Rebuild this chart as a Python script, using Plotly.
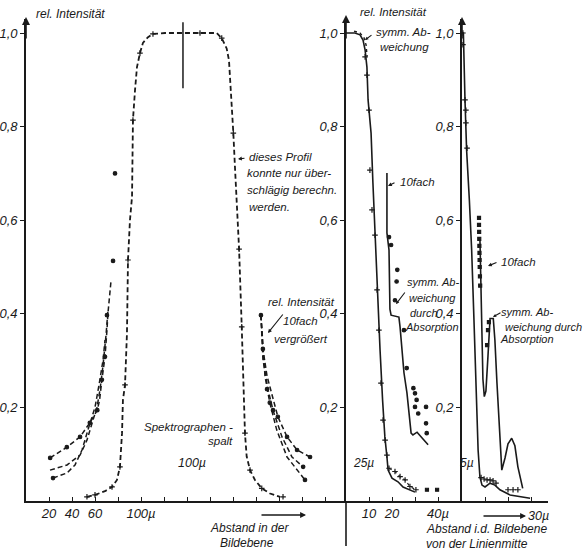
import plotly.graph_objects as go

W, H = 588, 552
INK = "#1a1a1a"
FONT = "Liberation Sans"

# ---------------- Panel 1: Spektrographenspalt 100 µ (x in µ) ----------------
slit_x = [53.0, 60.0, 68.7, 74.8, 79.1, 81.7, 83.5, 84.3, 86.1, 87.8, 88.7, 90.4, 92.2, 93.0,
          94.8, 96.5, 99.1, 101.7, 106.1, 110.4, 120.9, 136.5, 151.3, 165.8, 170.2, 174.5,
          176.5, 177.4, 178.9, 180.3, 181.7, 183.7, 185.3, 187.6, 189.0, 190.4, 191.9, 194.8,
          199.1, 205.0, 212.2, 220.9]
slit_y = [0.009, 0.013, 0.021, 0.030, 0.045, 0.073, 0.145, 0.216, 0.248, 0.359, 0.515, 0.600,
          0.650, 0.814, 0.878, 0.927, 0.957, 0.979, 0.991, 0.998, 1.0, 1.0, 1.0, 1.0, 0.989,
          0.967, 0.942, 0.907, 0.857, 0.786, 0.714, 0.607, 0.538, 0.372, 0.266, 0.145, 0.095,
          0.066, 0.045, 0.027, 0.016, 0.009]
slit_pts_x = [53.0, 60.0, 74.8, 81.7, 86.1, 88.7, 93.0, 99.1, 110.4, 151.3, 170.2, 180.3,
              185.3, 187.6, 190.4, 194.8, 205.0, 223.5]
slit_pts_y = [0.009, 0.013, 0.030, 0.073, 0.248, 0.515, 0.814, 0.957, 0.998, 1.0, 0.989,
              0.786, 0.538, 0.372, 0.145, 0.066, 0.027, 0.009]
bar_x = [136.5, 136.5]
bar_y = [1.023, 0.882]

# 10fach vergrößerte Flügel (links)
wingLa_x = [21.0, 35.5, 47.0, 55.5, 62.0, 64.0, 66.0, 68.7, 70.4, 71.3, 74.0]
wingLa_y = [0.092, 0.115, 0.137, 0.167, 0.194, 0.216, 0.259, 0.308, 0.365, 0.402, 0.472]
wingLb_x = [20.9, 35.7, 47.0, 53.0, 58.3, 61.7, 64.3, 67.0, 69.6, 71.3]
wingLb_y = [0.066, 0.077, 0.098, 0.130, 0.173, 0.200, 0.237, 0.290, 0.355, 0.408]
wingLc_x = [23.5, 35.7, 42.6, 48.7, 53.9, 60.0, 63.5, 67.0, 68.7]
wingLc_y = [0.049, 0.060, 0.077, 0.109, 0.152, 0.200, 0.248, 0.301, 0.344]
wingL_pts_x = [21.0, 23.5, 35.5, 47.0, 55.5, 62.0, 66.0, 68.7, 70.4, 75.7, 77.4]
wingL_pts_y = [0.092, 0.049, 0.115, 0.137, 0.167, 0.194, 0.259, 0.308, 0.397, 0.513, 0.700]

# 10fach vergrößerte Flügel (rechts)
wingRa_x = [204.3, 206.0, 209.6, 214.0, 219.0, 227.0, 235.7, 247.0]
wingRa_y = [0.397, 0.325, 0.267, 0.224, 0.180, 0.137, 0.109, 0.094]
wingRb_x = [204.3, 206.0, 210.4, 214.8, 222.6, 231.3, 241.0]
wingRb_y = [0.397, 0.303, 0.239, 0.194, 0.137, 0.094, 0.073]
wingRc_x = [204.3, 207.8, 212.0, 218.0, 227.0, 235.7, 242.6]
wingRc_y = [0.397, 0.267, 0.210, 0.152, 0.094, 0.066, 0.045]
wingR_pts_x = [204.3, 206.0, 209.6, 212.0, 214.8, 219.0, 227.0, 235.7, 241.0, 242.6, 247.0]
wingR_pts_y = [0.397, 0.325, 0.239, 0.210, 0.194, 0.180, 0.137, 0.109, 0.073, 0.045, 0.094]

# ---------------- Panel 2: 25 µ ----------------
p2_x = [0.0, 3.9, 6.1, 7.4, 8.3, 9.1, 9.6, 10.9, 11.7, 12.6, 13.6, 14.8, 15.9, 16.9, 17.8,
        18.3, 20.0, 22.6, 24.8, 27.8, 30.0]
p2_y = [1.0, 1.0, 0.996, 0.985, 0.964, 0.927, 0.857, 0.786, 0.680, 0.573, 0.429, 0.323,
        0.216, 0.137, 0.094, 0.066, 0.049, 0.041, 0.030, 0.024, 0.019]
p2_pts_x = [8.3, 9.1, 10.0, 10.4, 11.3, 12.6, 13.5, 14.3, 15.2, 16.1, 17.0, 17.8]
p2_pts_y = [0.949, 0.910, 0.835, 0.707, 0.622, 0.568, 0.451, 0.365, 0.252, 0.173, 0.130, 0.098]
p2_sym_top_x = [3.5, 6.1, 7.8, 8.7, 9.2]
p2_sym_top_y = [1.004, 1.0, 0.990, 0.975, 0.950]
p2_sym_bot_x = [18.7, 21.3, 23.5, 25.7, 27.8, 30.4]
p2_sym_bot_y = [0.070, 0.063, 0.052, 0.045, 0.031, 0.024]
p2_tail_x = [35.2, 39.6]
p2_tail_y = [0.024, 0.024]

p2_ten_x = [17.8, 17.8, 18.7, 19.1, 19.6, 23.0, 23.5, 24.3, 25.2, 26.5, 27.4, 28.3, 29.1,
            30.9, 33.0, 35.7]
p2_ten_y = [0.701, 0.573, 0.536, 0.410, 0.397, 0.393, 0.372, 0.323, 0.274, 0.231, 0.180,
            0.145, 0.141, 0.147, 0.135, 0.120]
p2_ten_pts_x = [18.7, 19.6, 22.3, 22.0, 21.3, 25.2, 26.4, 29.3, 30.0, 30.7, 30.0, 34.8, 31.4,
                34.8, 35.1]
p2_ten_pts_y = [0.564, 0.547, 0.494, 0.469, 0.429, 0.365, 0.284, 0.241, 0.230, 0.216, 0.201,
                0.201, 0.187, 0.166, 0.145]

# ---------------- Panel 3: 5 µ ----------------
p3_x = [0.0, 0.6, 1.3, 2.0, 3.2, 4.2, 5.2, 6.1, 7.0, 7.8, 8.7, 10.0, 12.2, 14.3, 16.5, 20.9,
        25.2, 29.6]
p3_y = [1.0, 1.0, 0.857, 0.750, 0.643, 0.536, 0.387, 0.237, 0.109, 0.051, 0.034, 0.030,
        0.038, 0.034, 0.024, 0.013, 0.009, 0.006]
p3_pts_x = [0.4, 0.4, 1.3, 1.7, 1.7, 2.2, 8.3, 9.6, 10.9, 12.2, 13.5, 14.8, 20.0, 22.2, 24.3]
p3_pts_y = [1.0, 0.975, 0.857, 0.835, 0.808, 0.754, 0.050, 0.047, 0.045, 0.045, 0.043, 0.038,
            0.024, 0.024, 0.024]
p3_ten_x = [7.8, 8.3, 8.7, 9.1, 9.7, 10.4, 11.3, 12.2, 13.6, 14.3, 15.2, 16.5, 17.3, 18.7,
            20.0, 21.6, 23.0, 24.3, 26.4]
p3_ten_y = [0.560, 0.430, 0.330, 0.260, 0.223, 0.235, 0.310, 0.390, 0.390, 0.344, 0.252,
            0.152, 0.066, 0.092, 0.122, 0.134, 0.118, 0.073, 0.027]
p3_ten_pts_x = [7.4, 7.4, 7.45, 7.5, 7.55, 7.6, 7.65, 7.7, 7.8, 7.9, 10.9, 11.3, 11.7]
p3_ten_pts_y = [0.605, 0.590, 0.575, 0.560, 0.545, 0.530, 0.515, 0.500, 0.480, 0.460, 0.333,
                0.365, 0.382]

y_ticks = [0.2, 0.4, 0.6, 0.8, 1.0]
y_ticktext = ["0,2", "0,4", "0,6", "0,8", "1,0"]
x1_ticks = [20, 40, 60, 80, 100, 120, 140, 160, 180, 200, 220, 240, 260]
x1_ticktext = ["20", "40", "60", "", "100µ", "", "", "", "", "", "", "", ""]
x2_ticks = [10, 20, 30, 40]
x2_ticktext = ["10", "20", "", "40µ"]
x3_ticks = [10, 20, 30]
x3_ticktext = ["", "", ""]

# ---------------- geometry helpers (pixel -> paper) ----------------
def px(x):
    return x / W


def py(y):
    return 1 - y / H


BASE = 501.0
SCALE = 468.0
Y_TOP = 1.03
ydom = [py(BASE), py(BASE - Y_TOP * SCALE)]

fig = go.Figure()


def add(x, y, ax, dash="solid", width=1.4, mode="lines", symbol="cross-thin", msize=5):
    xa, ya = ("x", "y") if ax == 1 else (f"x{ax}", f"y{ax}")
    fig.add_trace(go.Scatter(
        x=x, y=y, xaxis=xa, yaxis=ya, mode=mode,
        line=dict(color=INK, width=width, dash=dash),
        marker=dict(symbol=symbol, size=msize, color=INK, line=dict(color=INK, width=1.2)),
        hoverinfo="skip", showlegend=False))


# panel 1
add(slit_x, slit_y, 1, dash="5px,3px", width=1.8)
add(slit_pts_x, slit_pts_y, 1, mode="markers", msize=4)
add(bar_x, bar_y, 1, width=1.5)
for wx, wy in [(wingLa_x, wingLa_y), (wingLb_x, wingLb_y), (wingLc_x, wingLc_y),
               (wingRa_x, wingRa_y), (wingRb_x, wingRb_y), (wingRc_x, wingRc_y)]:
    add(wx, wy, 1, dash="5px,3px", width=1.5)
add(wingL_pts_x, wingL_pts_y, 1, mode="markers", symbol="circle", msize=3.5)
add(wingR_pts_x, wingR_pts_y, 1, mode="markers", symbol="circle", msize=3.5)

# panel 2
add(p2_x, p2_y, 2, width=1.6)
add(p2_pts_x, p2_pts_y, 2, mode="markers", msize=4)
add(p2_sym_top_x, p2_sym_top_y, 2, dash="dot", width=1.4)
add(p2_sym_bot_x, p2_sym_bot_y, 2, mode="lines+markers", dash="dot", width=1.2, msize=4)
add(p2_tail_x, p2_tail_y, 2, mode="markers", symbol="square", msize=3)
add(p2_ten_x, p2_ten_y, 2, width=1.6)
add(p2_ten_pts_x, p2_ten_pts_y, 2, mode="markers", symbol="circle", msize=3.5)

# panel 3
add(p3_x, p3_y, 3, width=1.6)
add(p3_pts_x, p3_pts_y, 3, mode="markers", msize=4)
add(p3_ten_x, p3_ten_y, 3, width=1.6)
add(p3_ten_pts_x, p3_ten_pts_y, 3, mode="markers", symbol="square", msize=3)

tickfont = dict(family=FONT, size=13, color=INK, style="italic")
yax = dict(range=[0, Y_TOP], domain=ydom, showline=True, linecolor=INK, linewidth=1.6,
           ticks="outside", ticklen=4, tickwidth=1.2, tickcolor=INK, tickvals=y_ticks,
           ticktext=y_ticktext, tickfont=tickfont, showgrid=False, zeroline=False)
xax = dict(showline=True, linecolor=INK, linewidth=1.6, ticks="inside", ticklen=4,
           tickwidth=1.2, tickcolor=INK, tickfont=tickfont, showgrid=False, zeroline=False,
           ticklabelstandoff=0)

fig.update_layout(
    width=W, height=H, margin=dict(l=0, r=0, t=0, b=0),
    paper_bgcolor="white", plot_bgcolor="rgba(0,0,0,0)",
    xaxis=dict(xax, domain=[px(26), px(346)], range=[0, 320 / 1.15], anchor="y",
               tickvals=x1_ticks, ticktext=x1_ticktext),
    yaxis=dict(yax, anchor="x"),
    xaxis2=dict(xax, domain=[px(346), px(462)], range=[0, 116 / 2.3], anchor="y2",
                tickvals=x2_ticks, ticktext=x2_ticktext),
    yaxis2=dict(yax, anchor="x2"),
    xaxis3=dict(xax, domain=[px(462), px(548)], range=[0, 86 / 2.3], anchor="y3",
                tickvals=x3_ticks, ticktext=x3_ticktext),
    yaxis3=dict(yax, anchor="x3"),
    hovermode=False,
)

# extension of the middle y axis below the baseline
fig.add_shape(type="line", xref="paper", yref="paper", x0=px(346), x1=px(346),
              y0=py(BASE), y1=py(546), line=dict(color=INK, width=1.6))


def note(text, x, y, size=11.5, xanchor="center"):
    fig.add_annotation(text=text, x=px(x), y=py(y), xref="paper", yref="paper",
                       showarrow=False, xanchor=xanchor, yanchor="middle",
                       font=dict(family=FONT, size=size, color=INK, style="italic"))


def arrow(x0, y0, x1, y1, head=2, size=0.8, width=1.1):
    fig.add_annotation(text="", x=px(x1), y=py(y1), xref="paper", yref="paper",
                       ax=x0 - x1, ay=y0 - y1, showarrow=True, arrowhead=head,
                       arrowsize=size, arrowwidth=width, arrowcolor=INK)


# arrow heads on the y axes
arrow(26, 40, 26, 17, size=1.0, width=1.6)
arrow(346, 40, 346, 15, size=1.0, width=1.6)
arrow(462, 40, 462, 17, size=1.0, width=1.6)

# panel 1 texts
note("rel. Intensität", 70, 14, 12)
note("dieses Profil", 247, 157, 11.5, "left")
note("konnte nur über-", 245, 173, 11.5, "left")
note("schlägig berechn.", 245, 190, 11.5, "left")
note("werden.", 247, 207, 11.5, "left")
arrow(246, 158, 238, 159, size=0.7)
note("rel. Intensität", 301, 302, 11.5)
note("10fach", 300, 321, 11.5)
note("vergrößert", 301, 339, 11.5)
arrow(284, 313, 268, 333, size=0.7)
note("Spektrographen -", 188, 427, 11.5)
note("spalt", 220, 441, 11.5)
note("100µ", 192, 463, 12.5)
note("Abstand in der", 250, 528, 12)
note("Bildebene", 247, 543, 12)
arrow(260, 515, 306, 515, size=0.9, width=1.3)

# panel 2 texts
note("rel. Intensität", 393, 12, 11.5)
note("symm. Ab-", 403, 32, 11.5)
note("weichung", 404, 47, 11.5)
arrow(373, 34, 365, 40, size=0.6)
note("10fach", 398, 182, 11.5, "left")
arrow(396, 182, 388, 186, size=0.7)
note("symm. Ab-", 433, 282, 11)
note("weichung", 432, 298, 11)
note("durch", 424, 313, 11)
note("Absorption", 432, 327, 11)
arrow(406, 291, 396, 304, size=0.6)
note("25µ", 363, 463, 12)
note("Abstand i.d. Bildebene", 486, 529, 12)
note("von der Linienmitte", 477, 544, 12)
arrow(482, 516, 526, 516, size=0.9, width=1.3)
note("30µ", 538, 516, 12.5)

# panel 3 texts
note("10fach", 518, 262, 11.5)
arrow(498, 262, 488, 266, size=0.7)
note("symm. Ab-", 527, 312, 11)
note("weichung durch", 543, 327, 11)
note("Absorption", 527, 339, 11)
arrow(502, 312, 493, 317, size=0.6)
note("5µ", 467, 463, 12)

fig.write_html("out.html", config={"displayModeBar": False})
